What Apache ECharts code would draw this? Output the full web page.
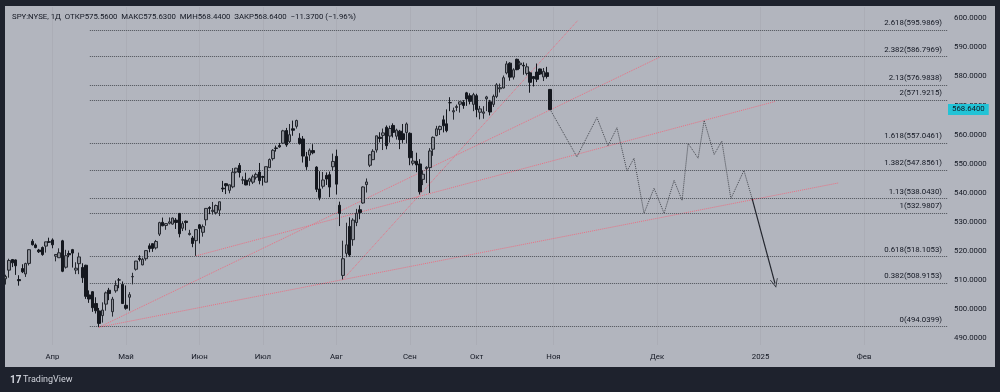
<!DOCTYPE html>
<html><head><meta charset="utf-8">
<script src="https://cdn.jsdelivr.net/npm/echarts@6/dist/echarts.min.js"></script>
<style>html,body{margin:0;padding:0;background:#1e222d;}#c{width:1000px;height:392px;}</style>
</head><body><div id="c"></div>
<script>
const dates = ['2024-03-08','2024-03-11','2024-03-12','2024-03-13','2024-03-14','2024-03-15','2024-03-18','2024-03-19','2024-03-20','2024-03-21','2024-03-22','2024-03-25','2024-03-26','2024-03-27','2024-03-28',
'2024-04-01','2024-04-02','2024-04-03','2024-04-04','2024-04-05','2024-04-08','2024-04-09','2024-04-10','2024-04-11','2024-04-12','2024-04-15','2024-04-16','2024-04-17','2024-04-18','2024-04-19','2024-04-22','2024-04-23','2024-04-24','2024-04-25','2024-04-26','2024-04-29','2024-04-30',
'2024-05-01','2024-05-02','2024-05-03','2024-05-06','2024-05-07','2024-05-08','2024-05-09','2024-05-10','2024-05-13','2024-05-14','2024-05-15','2024-05-16','2024-05-17','2024-05-20','2024-05-21','2024-05-22','2024-05-23','2024-05-24','2024-05-28','2024-05-29','2024-05-30','2024-05-31',
'2024-06-03','2024-06-04','2024-06-05','2024-06-06','2024-06-07','2024-06-10','2024-06-11','2024-06-12','2024-06-13','2024-06-14','2024-06-17','2024-06-18','2024-06-20','2024-06-21','2024-06-24','2024-06-25','2024-06-26','2024-06-27','2024-06-28',
'2024-07-01','2024-07-02','2024-07-03','2024-07-05','2024-07-08','2024-07-09','2024-07-10','2024-07-11','2024-07-12','2024-07-15','2024-07-16','2024-07-17','2024-07-18','2024-07-19','2024-07-22','2024-07-23','2024-07-24','2024-07-25','2024-07-26','2024-07-29','2024-07-30','2024-07-31',
'2024-08-01','2024-08-02','2024-08-05','2024-08-06','2024-08-07','2024-08-08','2024-08-09','2024-08-12','2024-08-13','2024-08-14','2024-08-15','2024-08-16','2024-08-19','2024-08-20','2024-08-21','2024-08-22','2024-08-23','2024-08-26','2024-08-27','2024-08-28','2024-08-29','2024-08-30',
'2024-09-03','2024-09-04','2024-09-05','2024-09-06','2024-09-09','2024-09-10','2024-09-11','2024-09-12','2024-09-13','2024-09-16','2024-09-17','2024-09-18','2024-09-19','2024-09-20','2024-09-23','2024-09-24','2024-09-25','2024-09-26','2024-09-27','2024-09-30',
'2024-10-01','2024-10-02','2024-10-03','2024-10-04','2024-10-07','2024-10-08','2024-10-09','2024-10-10','2024-10-11','2024-10-14','2024-10-15','2024-10-16','2024-10-17','2024-10-18','2024-10-21','2024-10-22','2024-10-23','2024-10-24','2024-10-25','2024-10-28','2024-10-29','2024-10-30','2024-10-31'];
const open = [515.46,510.48,513.45,517.11,516.97,510.21,514.00,512.15,515.77,523.39,522.11,520.35,521.23,521.71,523.21,
523.83,518.24,517.72,523.52,514.46,519.15,520.50,513.48,515.68,514.37,515.13,504.94,506.05,501.98,499.44,497.83,501.78,506.56,499.18,506.35,510.09,508.56,
501.38,504.15,511.16,513.75,517.56,515.26,517.38,521.81,522.56,521.11,525.83,529.88,528.81,529.57,529.28,530.65,532.96,527.85,530.27,525.68,524.52,523.59,
529.02,526.46,530.77,534.98,533.66,533.18,534.07,541.63,543.15,540.88,542.08,547.16,549.44,544.40,544.33,543.99,543.69,545.37,547.16,
545.63,543.70,548.69,551.77,555.44,556.26,557.07,561.44,557.63,562.03,562.87,558.80,558.51,552.42,553.00,554.54,548.86,541.35,542.28,546.02,546.26,548.98,
552.57,535.75,511.64,519.22,528.47,523.91,529.81,534.21,536.53,542.85,549.50,551.42,554.73,559.15,559.77,562.56,559.53,563.18,559.49,561.21,560.31,560.77,
560.47,550.20,550.89,549.94,544.65,548.36,548.70,555.01,559.71,561.74,565.10,563.74,571.01,567.84,569.34,570.48,571.14,574.38,573.39,570.42,
573.40,567.71,567.36,572.35,571.30,570.42,573.16,575.77,576.05,581.22,584.59,579.78,585.91,584.07,583.85,581.05,581.26,579.98,581.51,582.58,579.85,581.29,575.56];
const high = [518.22,511.88,517.38,517.29,517.13,511.70,515.48,516.00,520.62,524.11,522.61,520.75,521.58,523.21,524.61,
524.38,518.98,520.95,523.87,520.44,520.18,520.75,516.16,519.48,515.82,515.30,506.50,506.22,504.13,500.46,502.38,506.09,507.37,504.27,509.88,510.75,509.56,
508.19,505.89,512.55,516.61,518.57,517.74,520.21,522.64,522.67,523.83,530.08,531.52,529.52,531.56,531.52,531.38,533.07,530.27,530.51,527.31,525.20,527.50,
529.31,529.15,534.69,535.42,536.89,535.99,537.01,544.12,543.33,542.81,548.53,548.62,550.28,545.65,546.95,545.20,546.24,546.96,550.28,
545.88,549.01,551.83,555.05,556.25,557.18,561.67,562.33,563.67,564.84,565.16,560.51,559.52,554.08,555.27,556.74,549.17,547.46,547.19,547.05,547.34,553.50,
554.87,536.99,523.58,529.75,531.59,531.29,534.51,535.73,542.28,544.96,553.36,555.02,559.61,560.84,562.11,563.18,563.09,563.91,562.06,561.65,563.68,564.20,
560.81,554.43,553.80,551.60,547.71,549.15,555.36,559.40,563.03,563.11,566.58,568.69,572.88,569.31,570.33,571.36,571.89,574.71,574.22,574.38,
574.06,569.90,569.80,573.36,571.96,573.78,577.71,577.58,580.33,585.27,584.90,582.83,586.12,585.39,584.85,584.50,581.71,580.06,584.46,582.71,582.91,583.32,575.63];
const low = [511.13,508.50,510.86,514.49,511.82,508.12,512.44,511.12,515.08,521.91,520.97,519.35,518.40,519.49,522.78,
520.97,516.48,517.67,512.76,514.01,517.89,514.35,512.09,512.08,509.08,503.58,502.21,499.12,498.56,493.86,495.43,499.53,503.13,497.49,505.70,507.25,501.98,
499.87,499.55,508.56,513.30,516.45,515.14,516.71,519.59,519.74,520.56,525.18,528.54,527.32,529.17,529.07,527.60,524.72,526.88,527.11,525.37,521.33,518.36,
522.60,524.96,528.73,532.68,532.54,532.57,532.05,540.30,539.59,539.85,541.61,546.73,545.30,543.02,542.62,542.44,543.03,544.61,542.95,
542.52,543.65,548.65,551.12,554.19,555.52,556.77,555.83,557.15,559.63,562.10,556.61,550.43,547.91,551.02,553.28,540.29,537.45,541.49,542.72,538.52,547.58,
539.43,528.60,510.27,517.87,518.05,521.84,528.56,530.95,536.28,540.12,548.88,551.26,553.86,557.33,554.73,554.98,557.29,559.05,558.32,555.04,557.18,557.14,
549.51,549.46,547.10,539.44,542.68,543.38,539.96,552.74,559.45,559.90,560.79,560.83,568.08,565.17,568.10,567.60,568.91,569.90,570.42,568.08,
566.00,565.27,565.49,568.10,566.63,569.53,572.55,574.49,575.91,580.73,578.54,578.96,582.16,582.58,580.60,580.38,574.42,576.57,578.08,580.52,578.43,579.29,568.44];
const close = [511.72,511.28,516.78,515.97,514.95,509.83,512.86,515.71,520.48,522.20,521.21,519.77,518.81,523.17,523.07,
522.16,518.84,519.41,513.07,518.43,518.72,519.32,514.12,518.00,510.85,504.45,503.53,500.55,499.52,495.16,499.72,505.65,505.41,503.49,508.26,510.06,501.98,
500.35,505.03,511.29,516.57,517.14,517.19,520.17,520.84,520.91,523.30,529.78,528.69,529.45,530.06,531.36,529.83,525.96,529.44,529.81,526.10,522.61,527.37,
527.80,528.39,534.67,534.66,534.01,535.66,536.95,541.36,542.45,542.78,547.10,548.49,547.00,544.51,542.74,544.83,545.51,546.37,544.22,
545.34,549.01,551.46,554.64,555.28,555.82,561.32,556.48,559.99,561.53,564.86,556.94,552.66,548.99,554.65,553.78,541.23,538.41,544.44,544.76,542.00,550.81,
543.01,532.90,517.38,522.15,518.66,530.65,532.99,533.27,542.04,543.75,553.07,554.31,559.61,558.70,560.62,556.22,562.13,560.79,561.56,558.30,558.35,563.68,
552.08,550.95,549.61,540.36,546.41,548.79,554.42,559.09,562.01,562.84,563.07,561.40,570.98,568.25,569.67,571.30,570.04,572.30,571.47,573.76,
568.62,568.86,567.82,572.98,567.80,573.17,577.14,576.13,579.58,584.32,579.78,582.30,582.35,584.59,583.63,583.32,577.99,579.24,579.04,580.83,581.77,580.01,568.64];
const prevClose = 580.01;

const monthLabels = ['Апр','Май','Июн','Июл','Авг','Сен','Окт','Ноя','Дек','2025','Фев'];
const monthTickIdx = [0,22,44,63,85,107,127,150,181,212,243];
const priceTicks = [490,500,510,520,530,540,550,560,570,580,590,600];

const fibRatios = [0,0.382,0.618,1,1.13,1.382,1.618,2,2.13,2.382,2.618];
const fibLow = 494.0399, fibHigh = 532.9807, fibStartIdx = 11.2;

const trendStart = [[14,493.86],[14,493.86],[43,518.36],[87,510.27]];
const trendEnd   = [[235.2,543.4],[181.9,586.7],[216.3,571.4],[157.3,599.3]];

const pathIdx   = [149,157,163,166.3,169,172,174.1,177.1,180.1,183.1,186.1,188.5,190.3,193.3,195.1,198.1,200.4,203.1,207,209.4];
const pathPrice = [568.64,552.4,565.9,556.2,562.4,547.5,551.9,533.0,541.6,533.0,544.3,537.4,557.0,551.9,564.9,553.2,557.8,538.0,547.7,538.3];
const arrowIdx = [209.4,216.3], arrowPrice = [538.3,508.9];

const xMin = -14.2, xMax = 268.1, yMin = 487.73, yMax = 603.88;

const offset = -dates.indexOf('2024-04-01');
const candles = dates.map((d,i)=>[i+offset, open[i], close[i], low[i], high[i]]);
const n = close.length;
const fmt = v => v.toFixed(4);
const chg = close[n-1]-prevClose;
const header = 'SPY:NYSE, 1Д  ОТКР' + fmt(open[n-1]) + '  МАКС' + fmt(high[n-1]) + '  МИН' + fmt(low[n-1]) + '  ЗАКР' + fmt(close[n-1]) +
  '  ' + (chg<0?'−':'+') + fmt(Math.abs(chg)) + ' (' + (chg<0?'−':'+') + Math.abs(chg/prevClose*100).toFixed(2) + '%)';

const FONT = 'Roboto';
const FS = 7.8;
const TXT = '#131722';

const series = [];
series.push({
  type:'candlestick', data:candles, encode:{x:0,y:[1,2,3,4]}, barWidth:3, clip:true, z:5,
  itemStyle:{color:'#8d9098', color0:'#15181f', borderColor:'#262930', borderColor0:'#15181f', borderWidth:1}
});
// last price tag
series.push({
  type:'line', data:[], silent:true, z:8,
  markLine:{silent:true, symbol:'none', animation:false,
    data:[{yAxis:close[n-1]}],
    lineStyle:{color:'rgba(0,0,0,0)', width:1},
    label:{show:true, position:'end', formatter:()=>fmt(close[n-1]), backgroundColor:'#22c3d6', color:TXT, fontFamily:FONT, fontSize:FS, padding:[2,4,1,4], distance:0}
  }
});
// fib lines
series.push({
  type:'line', data:[], silent:true, z:3,
  markLine:{silent:true, symbol:'none', animation:false,
    lineStyle:{color:'#4d5058', type:'dotted', width:1},
    label:{position:'insideEndTop', color:TXT, fontFamily:FONT, fontSize:FS, distance:[6,3]},
    data: fibRatios.map(r=>{
      const p = fibLow + r*(fibHigh-fibLow);
      return [{coord:[fibStartIdx,p], label:{formatter: String(r)+'('+p.toFixed(4)+')'}},{coord:[xMax,p]}];
    })
  }
});
// trend lines
trendStart.forEach((s,i)=>{
  series.push({type:'line', data:[s, trendEnd[i]], symbol:'none', silent:true, z:4,
    lineStyle:{color:'#eb6f82', type:'dotted', width:1}});
});
// projection path
series.push({type:'line', data:pathIdx.map((x,i)=>[x,pathPrice[i]]), symbol:'none', silent:true, z:4,
  lineStyle:{color:'#45484f', type:'dotted', width:1}});
// arrow
series.push({type:'line', data:[], silent:true, z:4,
  markLine:{silent:true, animation:false, symbol:['none','path://M0,10 L5,0 L10,10 L9,10 L5,2 L1,10 Z'], symbolSize:[8,9],
    lineStyle:{color:'#23262e', type:'solid', width:1.2}, label:{show:false},
    data:[[{coord:[arrowIdx[0],arrowPrice[0]]},{coord:[arrowIdx[1],arrowPrice[1]]}]]}
});

const chart = echarts.init(document.getElementById('c'), null, {renderer:'canvas'});
chart.setOption({
  animation:false,
  backgroundColor:'#1e222d',
  grid:{left:5, right:52, top:7, bottom:47, containLabel:false},
  xAxis:{type:'value', min:xMin, max:xMax,
    axisLine:{show:false}, axisTick:{show:false, customValues:monthTickIdx},
    splitLine:{show:true, lineStyle:{color:'rgba(0,0,0,0.04)', width:1}},
    axisLabel:{customValues:monthTickIdx, formatter:v=>monthLabels[monthTickIdx.indexOf(v)] || '', color:TXT, fontFamily:FONT, fontSize:FS, margin:8}
  },
  yAxis:{type:'value', position:'right', min:yMin, max:yMax, scale:true,
    axisLine:{show:false}, axisTick:{show:false, customValues:priceTicks},
    splitLine:{show:false},
    axisLabel:{customValues:priceTicks, formatter:v=>v.toFixed(4), color:TXT, fontFamily:FONT, fontSize:FS, margin:6}
  },
  graphic:[
    {type:'rect', shape:{x:5, y:6, width:990, height:361}, style:{fill:'#b2b5be'}, z:-10, silent:true},
    {type:'text', x:12, y:17, style:{text:header, fill:TXT, font:FS+'px '+FONT, textVerticalAlign:'middle'}, z:10},
    {type:'text', x:10, y:380, style:{text:'17', fill:'#d1d4dc', font:'bold 10px '+FONT, textVerticalAlign:'middle'}, z:10},
    {type:'text', x:23, y:380, style:{text:'TradingView', fill:'#d1d4dc', font:'9px '+FONT, textVerticalAlign:'middle'}, z:10}
  ],
  series
});
</script></body></html>
